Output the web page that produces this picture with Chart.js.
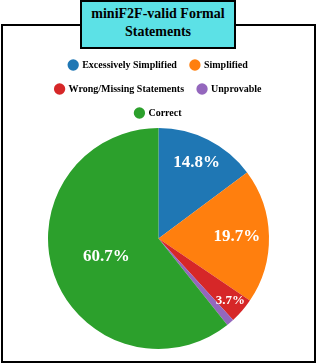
<!DOCTYPE html>
<html>
<head>
<meta charset="utf-8">
<script src="https://cdn.jsdelivr.net/npm/chart.js@4"></script>
<style>
  html, body { margin: 0; padding: 0; background: #fff; }
  #wrap { position: relative; width: 317px; height: 363px; overflow: hidden; }
  #frame { position: absolute; left: 1px; top: 24px; width: 311px; height: 335px; border: 2px solid #000; background: #fff; }
  #title { position: absolute; left: 80px; top: 0; width: 152px; height: 42px; border: 2px solid #000; background: #5ce1e6;
           font: bold 14px "Liberation Serif", serif; text-align: center; line-height: 18px; padding-top: 3px; box-sizing: content-box; }
  #title span { display: block; }
  canvas { position: absolute; left: 0; top: 0; }
</style>
</head>
<body>
<div id="wrap">
  <div id="frame"></div>
  <canvas id="pieChart" width="317" height="363"></canvas>
  <div id="title"><span>miniF2F-valid Formal</span><span>Statements</span></div>
</div>
<script>
// Chart data
const categories = ['Excessively Simplified', 'Simplified', 'Wrong/Missing Statements', 'Unprovable', 'Correct'];
const shares = [14.8, 19.7, 3.7, 1.1, 60.7];
const sliceColors = ['#1f77b4', '#ff7f0e', '#d62728', '#9467bd', '#2ca02c'];

// Draws the percentage text inside each slice
const sliceLabels = {
    id: 'sliceLabels',
    afterDatasetsDraw(chart, args, opts) {
        const ctx = chart.ctx;
        const arcs = chart.getDatasetMeta(0).data;
        ctx.save();
        ctx.fillStyle = '#fff';
        ctx.textAlign = 'center';
        ctx.textBaseline = 'middle';
        arcs.forEach((arc, i) => {
            const value = shares[i];
            if (value < 2) return;
            const mid = (arc.startAngle + arc.endAngle) / 2;
            const r = arc.outerRadius * opts.distance[i];
            ctx.font = (value < 5 ? 'bold 13px' : 'bold 17px') + ' "Liberation Serif", serif';
            ctx.fillText(value.toFixed(1) + '%', arc.x + Math.cos(mid) * r, arc.y + Math.sin(mid) * r);
        });
        ctx.restore();
    }
};

const ctx = document.getElementById('pieChart').getContext('2d');
new Chart(ctx, {
    type: 'pie',
    data: {
        labels: categories,
        datasets: [{
            data: shares,
            backgroundColor: sliceColors,
            borderWidth: 0
        }]
    },
    options: {
        responsive: false,
        animation: false,
        layout: { padding: { top: 46, bottom: 14, left: 40, right: 40 } },
        plugins: {
            tooltip: { enabled: false },
            legend: {
                position: 'top',
                labels: {
                    usePointStyle: true,
                    pointStyle: 'circle',
                    boxWidth: 8,
                    boxHeight: 8,
                    padding: 14,
                    color: '#000',
                    font: { family: '"Liberation Serif", serif', size: 10, weight: 'bold' }
                }
            },
            sliceLabels: { distance: [0.77, 0.71, 0.86, 0.8, 0.5] }
        }
    },
    plugins: [sliceLabels]
});
</script>
</body>
</html>
